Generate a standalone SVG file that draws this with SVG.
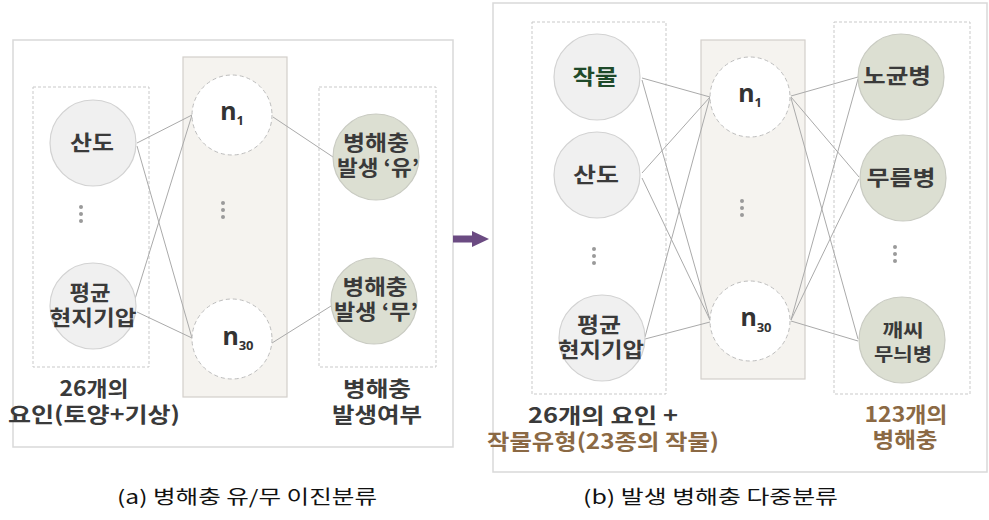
<svg xmlns="http://www.w3.org/2000/svg" width="989" height="520" viewBox="0 0 989 520">
<style>
.frame{fill:#fff;stroke:#d9d9d9;stroke-width:1.5}
.dbox{fill:none;stroke:#c9c9c9;stroke-width:1;stroke-dasharray:3,2}
.hbox{fill:#f5f3ef;stroke:#d3cfca;stroke-width:1.2}
.inp{fill:#f0f0f0;stroke:#d2d2d2;stroke-width:1.2}
.out{fill:#dcdfd2;stroke:#c9cbc2;stroke-width:1.2}
.hid{fill:#fff;stroke:#bdbdbd;stroke-width:1;stroke-dasharray:4,3}
.lbl{font-family:"Noto Sans CJK KR","Noto Sans",sans-serif;font-weight:bold;fill:#3a3a3a;text-anchor:middle;font-size:21px}
.nn{font-family:"Noto Sans","Noto Sans CJK KR",sans-serif;font-weight:bold;fill:#333;text-anchor:middle}
.brown{fill:#8b6944}
.cap{font-family:"Noto Sans CJK KR","Noto Sans",sans-serif;font-size:19px;fill:#111}
.dot{fill:#9a9a9a}
.conn line{stroke:#aaaaaa;stroke-width:1}
</style>
<rect width="989" height="520" fill="#fff"/>

<!-- Panel frames -->
<rect id="frameA" class="frame" x="13" y="40" width="440" height="407"/>
<rect id="frameB" class="frame" x="493" y="3" width="494" height="469"/>

<!-- Panel (a) containers -->
<rect class="dbox" x="33" y="87" width="116" height="280"/>
<rect class="hbox" x="183" y="57" width="104" height="340"/>
<rect class="dbox" x="319" y="87" width="117" height="280"/>

<!-- Panel (b) containers -->
<rect class="dbox" x="532" y="22" width="134" height="372"/>
<rect class="hbox" x="701" y="40" width="104" height="339"/>
<rect class="dbox" x="834" y="22" width="136" height="372"/>

<!-- Connectors -->
<g id="connectors" class="conn">
  <line x1="137" y1="143" x2="192" y2="115"/>
  <line x1="137" y1="146" x2="192" y2="338"/>
  <line x1="135" y1="299" x2="192" y2="115"/>
  <line x1="137" y1="312" x2="192" y2="338"/>
  <line x1="273" y1="117" x2="333" y2="157"/>
  <line x1="272" y1="343" x2="331" y2="306"/>

  <line x1="642" y1="78" x2="710" y2="97"/>
  <line x1="642" y1="80" x2="710" y2="320"/>
  <line x1="642" y1="173" x2="710" y2="97"/>
  <line x1="642" y1="178" x2="710" y2="320"/>
  <line x1="645" y1="337" x2="710" y2="97"/>
  <line x1="645" y1="339" x2="710" y2="322"/>
  <line x1="791" y1="96" x2="858" y2="77"/>
  <line x1="791" y1="97" x2="859" y2="177"/>
  <line x1="791" y1="98" x2="858" y2="339"/>
  <line x1="791" y1="320" x2="858" y2="79"/>
  <line x1="791" y1="320" x2="859" y2="179"/>
  <line x1="791" y1="321" x2="858" y2="341"/>
</g>

<!-- Arrow between panels -->
<g id="arrow">
  <rect x="453" y="235.5" width="21" height="7" fill="#6b4b82"/>
  <polygon points="472,231 489,239 472,247" fill="#6b4b82"/>
</g>

<!-- Panel (a) nodes -->
<g id="a_sando">
  <circle class="inp" cx="93" cy="143" r="43"/>
  <text class="lbl" x="92" y="150" textLength="44" lengthAdjust="spacingAndGlyphs">산도</text>
</g>
<g id="a_dots_in">
  <circle class="dot" cx="81" cy="207" r="2"/><circle class="dot" cx="81" cy="214" r="2"/><circle class="dot" cx="81" cy="221" r="2"/>
</g>
<g id="a_pressure">
  <circle class="inp" cx="93" cy="306" r="43"/>
  <text class="lbl" x="90" y="300" textLength="41" lengthAdjust="spacingAndGlyphs">평균</text>
  <text class="lbl" x="93" y="325" textLength="87" lengthAdjust="spacingAndGlyphs">현지기압</text>
</g>
<g id="a_n1">
  <circle class="hid" cx="232" cy="115" r="40"/>
  <text class="nn" x="232" y="120" font-size="25">n<tspan font-size="13" dy="5">1</tspan></text>
</g>
<g id="a_dots_hid">
  <circle class="dot" cx="223" cy="203" r="2"/><circle class="dot" cx="223" cy="210" r="2"/><circle class="dot" cx="223" cy="217" r="2"/>
</g>
<g id="a_n30">
  <circle class="hid" cx="232" cy="339" r="40"/>
  <text class="nn" x="238" y="345" font-size="25">n<tspan font-size="13" dy="5">30</tspan></text>
</g>
<g id="a_yes">
  <circle class="out" cx="376" cy="157" r="43"/>
  <text class="lbl" x="376" y="150" textLength="66" lengthAdjust="spacingAndGlyphs">병해충</text>
  <text class="lbl" x="378" y="175" textLength="82" lengthAdjust="spacingAndGlyphs">발생 ‘유’</text>
</g>
<g id="a_no">
  <circle class="out" cx="374" cy="301" r="43"/>
  <text class="lbl" x="375" y="294" textLength="65" lengthAdjust="spacingAndGlyphs">병해충</text>
  <text class="lbl" x="376" y="319" textLength="84" lengthAdjust="spacingAndGlyphs">발생 ‘무’</text>
</g>
<g id="a_labels">
  <text class="lbl" x="94" y="396" textLength="69" lengthAdjust="spacingAndGlyphs">26개의</text>
  <text class="lbl" x="94" y="422" textLength="172" lengthAdjust="spacingAndGlyphs">요인(토양+기상)</text>
  <text class="lbl" x="377" y="396" textLength="68" lengthAdjust="spacingAndGlyphs">병해충</text>
  <text class="lbl" x="377" y="422" textLength="90" lengthAdjust="spacingAndGlyphs">발생여부</text>
</g>

<!-- Panel (b) nodes -->
<g id="b_crop">
  <circle class="inp" cx="597" cy="77" r="43"/>
  <text class="lbl" x="595" y="84" textLength="45" lengthAdjust="spacingAndGlyphs" style="fill:#1f4a2a">작물</text>
</g>
<g id="b_sando">
  <circle class="inp" cx="597" cy="175" r="43"/>
  <text class="lbl" x="596" y="182" textLength="46" lengthAdjust="spacingAndGlyphs">산도</text>
</g>
<g id="b_dots_in">
  <circle class="dot" cx="594" cy="249" r="2"/><circle class="dot" cx="594" cy="256" r="2"/><circle class="dot" cx="594" cy="263" r="2"/>
</g>
<g id="b_pressure">
  <circle class="inp" cx="602" cy="338" r="43"/>
  <text class="lbl" x="599" y="332" textLength="44" lengthAdjust="spacingAndGlyphs">평균</text>
  <text class="lbl" x="601" y="357" textLength="86" lengthAdjust="spacingAndGlyphs">현지기압</text>
</g>
<g id="b_n1">
  <circle class="hid" cx="750" cy="97" r="40"/>
  <text class="nn" x="750" y="102" font-size="25">n<tspan font-size="13" dy="5">1</tspan></text>
</g>
<g id="b_dots_hid">
  <circle class="dot" cx="742" cy="201" r="2"/><circle class="dot" cx="742" cy="208" r="2"/><circle class="dot" cx="742" cy="215" r="2"/>
</g>
<g id="b_n30">
  <circle class="hid" cx="750" cy="321" r="40"/>
  <text class="nn" x="756" y="326" font-size="25">n<tspan font-size="13" dy="6">30</tspan></text>
</g>
<g id="b_d1">
  <circle class="out" cx="901" cy="77" r="43"/>
  <text class="lbl" x="897" y="83" textLength="68" lengthAdjust="spacingAndGlyphs">노균병</text>
</g>
<g id="b_d2">
  <circle class="out" cx="903" cy="178" r="43"/>
  <text class="lbl" x="901" y="185" textLength="69" lengthAdjust="spacingAndGlyphs">무름병</text>
</g>
<g id="b_dots_out">
  <circle class="dot" cx="895" cy="247" r="2"/><circle class="dot" cx="895" cy="254" r="2"/><circle class="dot" cx="895" cy="261" r="2"/>
</g>
<g id="b_d3">
  <circle class="out" cx="902" cy="340" r="43"/>
  <text class="lbl" x="903" y="337" style="font-size:18px" textLength="41" lengthAdjust="spacingAndGlyphs">깨씨</text>
  <text class="lbl" x="903" y="361" style="font-size:18px" textLength="58" lengthAdjust="spacingAndGlyphs">무늬병</text>
</g>
<g id="b_labels">
  <text class="lbl" x="603" y="423" textLength="150" lengthAdjust="spacingAndGlyphs">26개의 요인 +</text>
  <text class="lbl" x="603" y="449" textLength="232" lengthAdjust="spacingAndGlyphs" style="fill:#8b6944">작물유형(23종의 작물)</text>
  <text class="lbl" x="906" y="422" textLength="83" lengthAdjust="spacingAndGlyphs" style="fill:#8b6944">123개의</text>
  <text class="lbl" x="905" y="447" textLength="65" lengthAdjust="spacingAndGlyphs" style="fill:#8b6944">병해충</text>
</g>

<!-- Captions -->
<text class="cap" x="117" y="504" textLength="260" lengthAdjust="spacingAndGlyphs">(a) 병해충 유/무 이진분류</text>
<text class="cap" x="583" y="504" textLength="255" lengthAdjust="spacingAndGlyphs">(b) 발생 병해충 다중분류</text>
</svg>
